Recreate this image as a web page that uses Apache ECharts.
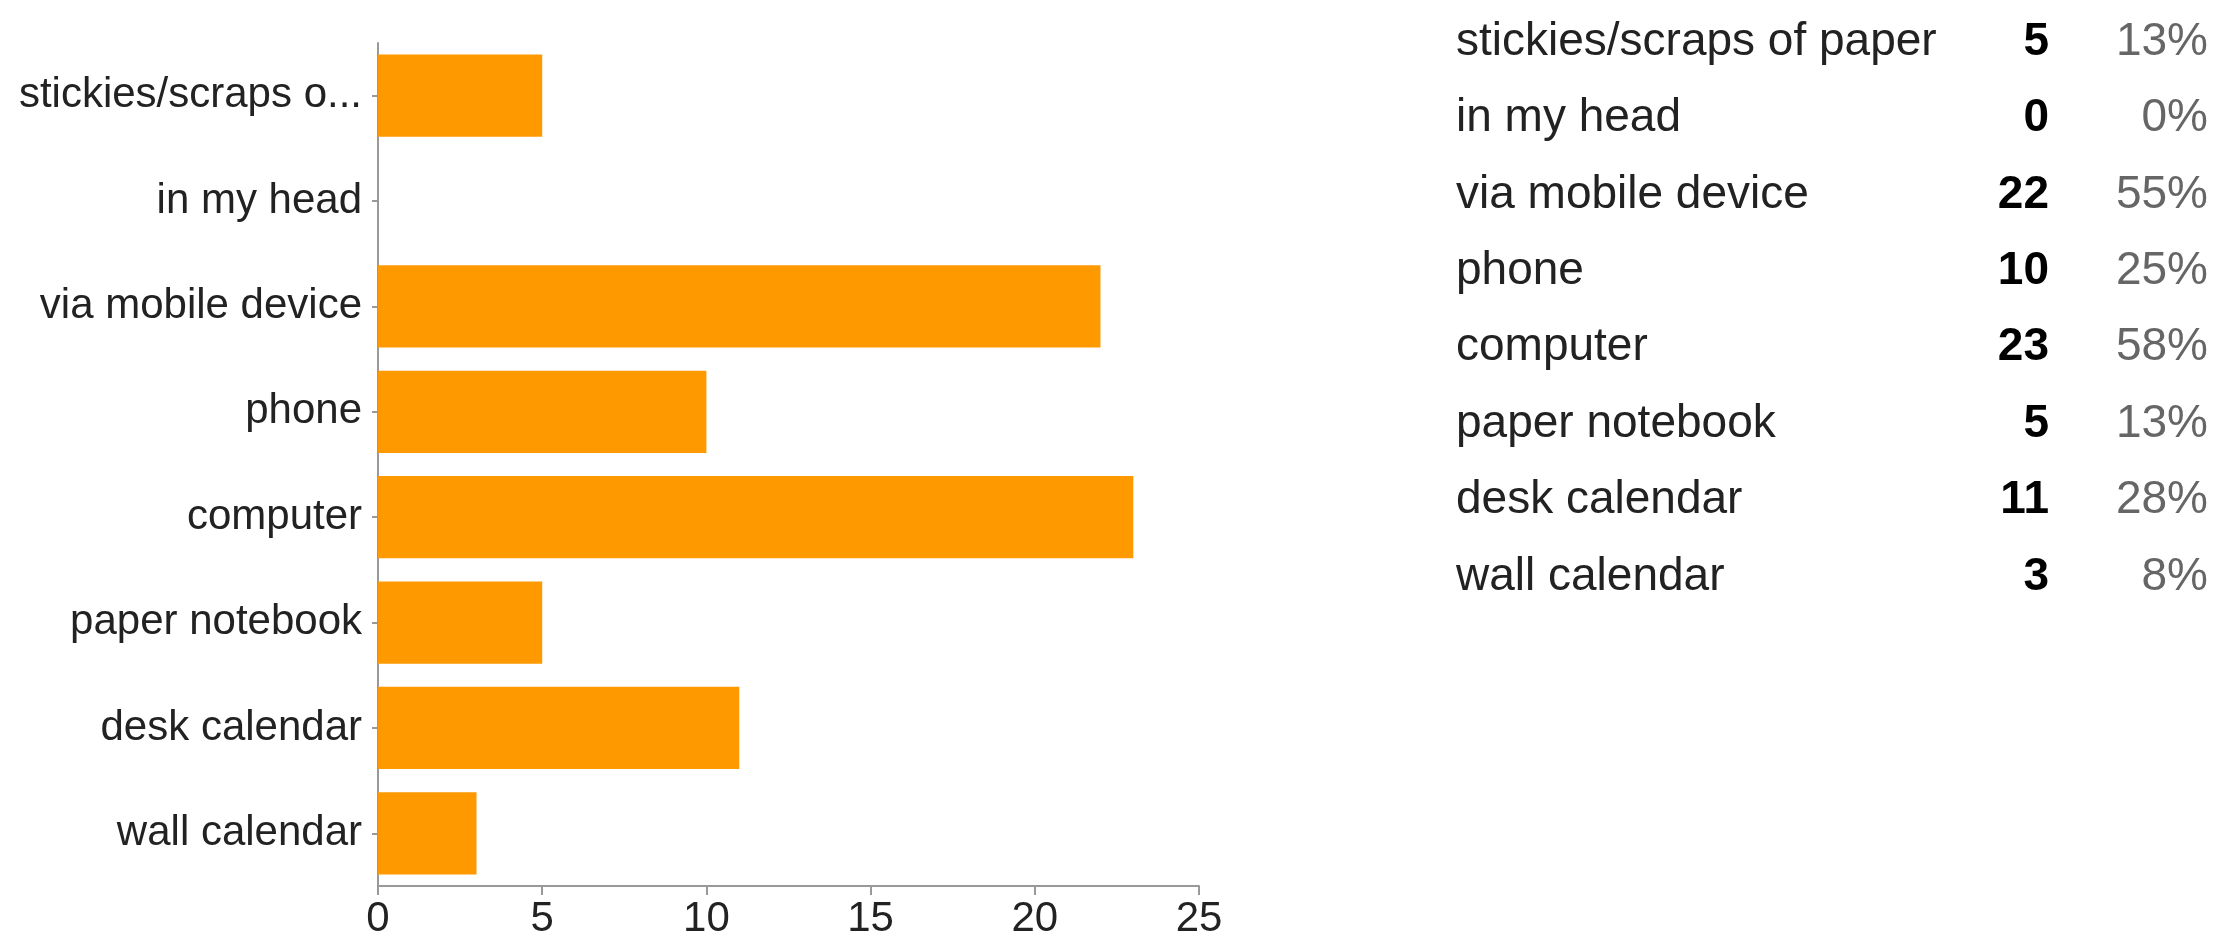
<!DOCTYPE html>
<html>
<head>
<meta charset="utf-8">
<title>Survey chart</title>
<script src="https://cdn.jsdelivr.net/npm/echarts@6/dist/echarts.min.js"></script>
<style>
  html, body { margin: 0; padding: 0; background: #fff; }
  #chart { width: 2231px; height: 948px; }
</style>
</head>
<body>
<div id="chart"></div>
<script>
// answers, in the order they are listed (top to bottom)
const categories = [
  'stickies/scraps of paper',
  'in my head',
  'via mobile device',
  'phone',
  'computer',
  'paper notebook',
  'desk calendar',
  'wall calendar'
];
const counts = [5, 0, 22, 10, 23, 5, 11, 3];
const percentLabels = ['13%', '0%', '55%', '25%', '58%', '13%', '28%', '8%'];
const xTicks = [0, 5, 10, 15, 20, 25];

const FONT = '"Liberation Sans", Arial, Helvetica, sans-serif';
const chart = echarts.init(document.getElementById('chart'));

const option = {
  backgroundColor: '#fff',
  animation: false,
  textStyle: { fontFamily: FONT },
  grid: [
    { left: 378, right: 1032, top: 43, bottom: 62 },
    // table on the right, only its axis labels are shown
    { left: 2212, right: 13, top: 4, bottom: 333 }
  ],
  xAxis: [{
    gridIndex: 0,
    type: 'value',
    min: xTicks[0],
    max: xTicks[xTicks.length - 1],
    interval: xTicks[1] - xTicks[0],
    axisLine: { show: true, lineStyle: { color: '#999', width: 2 } },
    axisTick: { show: true, length: 9, lineStyle: { color: '#999', width: 2 } },
    axisLabel: { color: '#222', fontSize: 42, margin: 12, fontFamily: FONT },
    splitLine: { show: false }
  }, {
    gridIndex: 1,
    type: 'value',
    show: false
  }],
  yAxis: [{
    gridIndex: 0,
    type: 'category',
    inverse: true,
    data: categories,
    axisLine: { show: true, lineStyle: { color: '#999', width: 2 } },
    axisTick: { show: true, alignWithLabel: true, length: 6, lineStyle: { color: '#999', width: 2 } },
    axisLabel: {
      color: '#222',
      fontSize: 42,
      margin: 16,
      fontFamily: FONT,
      width: 348,
      overflow: 'truncate',
      ellipsis: '...'
    }
  }, {
    gridIndex: 1,
    type: 'category',
    inverse: true,
    data: categories,
    axisLine: { show: false },
    axisTick: { show: false },
    axisLabel: {
      margin: 4,
      fontFamily: FONT,
      formatter: (v, i) => `{n|${v}}{c|${counts[i]}}{p|${percentLabels[i]}}`,
      rich: {
        n: { width: 503, align: 'left', fontSize: 46, color: '#222', fontFamily: FONT },
        c: { width: 90, align: 'right', fontSize: 46, color: '#000', fontWeight: 'bold', fontFamily: FONT },
        p: { width: 159, align: 'right', fontSize: 46, color: '#666', fontFamily: FONT }
      }
    }
  }],
  series: [{
    type: 'bar',
    xAxisIndex: 0,
    yAxisIndex: 0,
    data: counts,
    barCategoryGap: '22%',
    itemStyle: { color: '#FF9900' }
  }]
};

chart.setOption(option);
</script>
</body>
</html>
